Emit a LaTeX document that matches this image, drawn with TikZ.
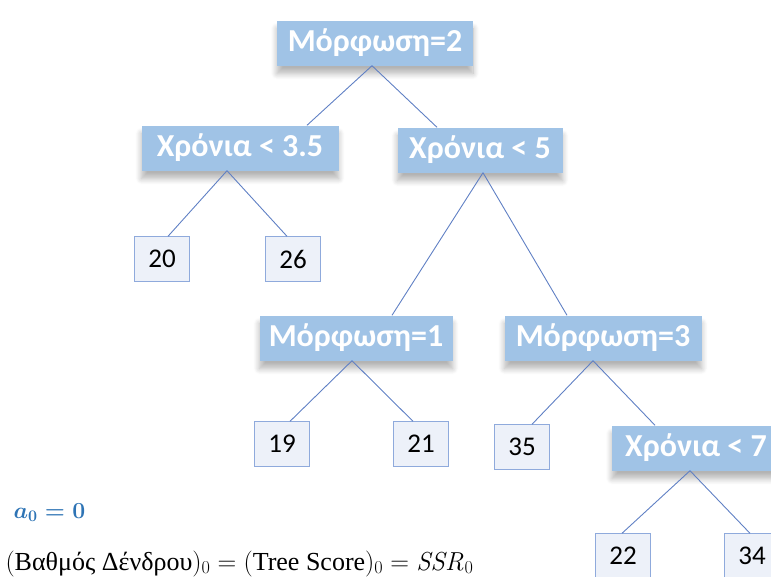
\RequirePackage{fix-cm}
\documentclass[tikz,border=0pt]{standalone}
\usepackage{amsmath}
\usepackage[no-math]{fontspec}
\setmainfont{Carlito}
\newfontfamily\serfont{Liberation Serif}
\usepackage{xcolor}
\usetikzlibrary{positioning,shadows.blur}

\definecolor{hdrblue}{RGB}{160,195,230}
\definecolor{leaffill}{RGB}{237,241,249}
\definecolor{leafline}{RGB}{143,170,220}
\definecolor{lnkblue}{RGB}{96,128,196}
\definecolor{mathblue}{RGB}{46,116,181}

\begin{document}
\begin{tikzpicture}[
  x=1pt, y=-1pt,
  hdr/.style={fill=hdrblue, text=white, font=\fontsize{32}{34}\selectfont\bfseries,
              minimum height=45pt, inner xsep=6pt, inner ysep=0pt,
              blur shadow={shadow xshift=0pt, shadow yshift=-8pt, shadow blur radius=6pt,
                           shadow opacity=30, shadow blur steps=10}},
  leaf/.style={draw=leafline, fill=leaffill, font=\fontsize{27}{29}\selectfont,
               minimum width=55pt, minimum height=45pt, inner sep=0pt},
  lnk/.style={draw=lnkblue, line width=0.9pt}
]
\useasboundingbox (0,0) rectangle (771,576);
\clip (0,0) rectangle (771,576);

% split nodes
\node[hdr, minimum width=196pt] (root) at (375,43) {Μόρφωση=2};
\node[hdr, minimum width=197pt] (yrA) at (240,148) {Χρόνια < 3.5};
\node[hdr, minimum width=165pt] (yrB) at (480,150) {Χρόνια < 5};
\node[hdr, minimum width=193pt] (edA) at (356,338) {Μόρφωση=1};
\node[hdr, minimum width=197pt] (edB) at (603,338) {Μόρφωση=3};
\node[hdr, minimum width=168pt] (yrC) at (696,448) {Χρόνια < 7};

% leaves
\node[leaf] (l20) at (162,259) {20};
\node[leaf] (l26) at (293,259) {26};
\node[leaf] (l19) at (282,444) {19};
\node[leaf] (l21) at (421,444) {21};
\node[leaf] (l35) at (522,447) {35};
\node[leaf] (l22) at (623,556) {22};
\node[leaf] (l34) at (752,556) {34};

\draw[lnk] ([xshift=-3pt]root.south) -- ([xshift=67pt]yrA.north);
\draw[lnk] ([xshift=-3pt]root.south) -- ([xshift=-43pt]yrB.north);
\draw[lnk] ([xshift=-13pt]yrA.south) -- ([xshift=6pt]l20.north);
\draw[lnk] ([xshift=-13pt]yrA.south) -- ([xshift=-6pt]l26.north);
\draw[lnk] ([xshift=3pt]yrB.south) -- ([xshift=36pt]edA.north);
\draw[lnk] ([xshift=3pt]yrB.south) -- ([xshift=-36pt]edB.north);
\draw[lnk] ([xshift=-4pt]edA.south) -- ([xshift=8pt]l19.north);
\draw[lnk] ([xshift=-4pt]edA.south) -- ([xshift=-8pt]l21.north);
\draw[lnk] ([xshift=-10pt]edB.south) -- ([xshift=10pt]l35.north);
\draw[lnk] ([xshift=-10pt]edB.south) -- ([xshift=-41pt]yrC.north);
\draw[lnk] ([xshift=-6pt]yrC.south) -- ([xshift=-1pt]l22.north);
\draw[lnk] ([xshift=-6pt]yrC.south) -- ([xshift=-2pt]l34.north);

% formulas
\node[anchor=base west, text=mathblue, font=\fontsize{23}{26}\selectfont\boldmath] (alpha) at (10,518) {$a_0 = 0$};
\node[anchor=base west, font=\fontsize{26}{28}\selectfont\serfont] (score) at (2,570)
  {$(\text{Βαθμός Δένδρου})_0 = (\text{Tree Score})_0 = \mathit{SSR}_0$};
\end{tikzpicture}
\end{document}
